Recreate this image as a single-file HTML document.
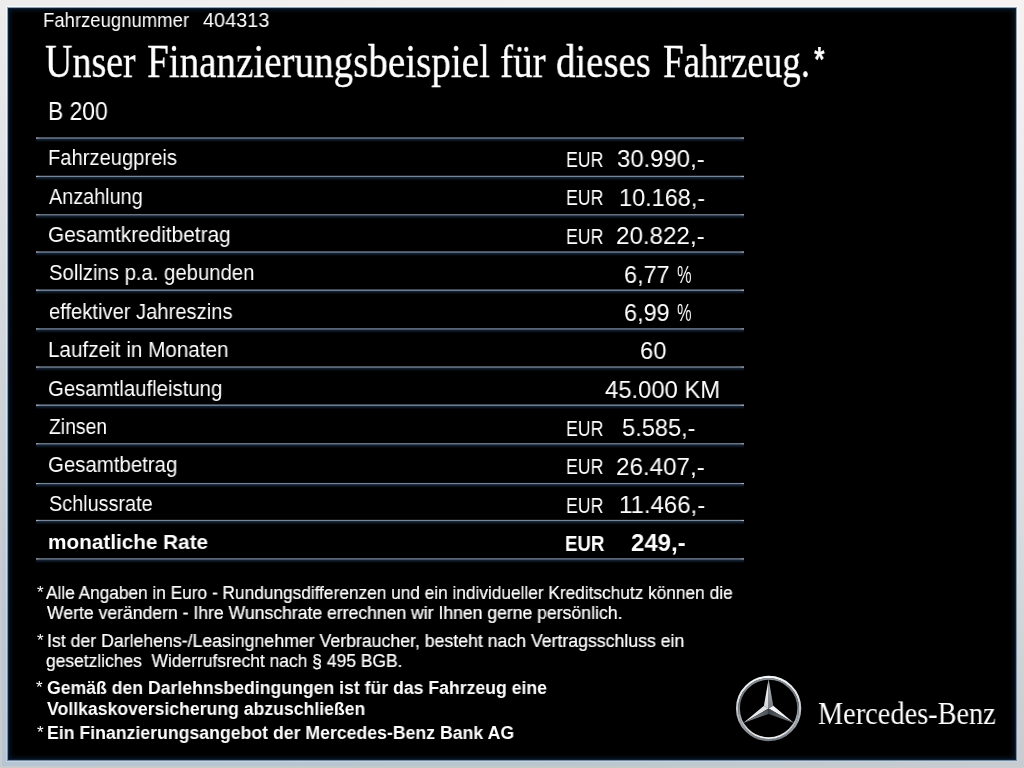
<!DOCTYPE html>
<html lang="de"><head><meta charset="utf-8"><title>Finanzierungsbeispiel</title>
<style>
html,body{margin:0;padding:0;}
body{width:1024px;height:768px;overflow:hidden;position:relative;background:linear-gradient(180deg,#f6f2f4 0%,#ecebed 24%,#e2e4e6 50%,#d2d8dc 76%,#c8ccd0 100%);font-family:"Liberation Sans",sans-serif;}
#bl{position:absolute;left:0;top:0;width:8px;height:768px;background:linear-gradient(180deg,#ededed 0%,#dde1e6 24%,#cdd4d9 50%,#bfc8d3 76%,#b6c5d4 100%);}
#bl2{position:absolute;left:0;top:0;width:2px;height:768px;background:linear-gradient(180deg,#ededed 0%,#e0e1e7 24%,#d0d4d7 50%,#c8ccd0 76%,#c8cccc 100%);}
#bb2{position:absolute;left:0;top:766px;width:1024px;height:2px;background:linear-gradient(90deg,#c8cccc 0%,#c3cac9 50%,#cacdd0 100%);}
#bt{position:absolute;left:0;top:0;width:1024px;height:6px;background:linear-gradient(90deg,#ededed 0%,#f4f2f1 50%,#f6f2f4 100%);}
#bb{position:absolute;left:0;top:762px;width:1024px;height:6px;background:linear-gradient(90deg,#b6c5d4 0%,#b8c6ce 50%,#c8ccd0 100%);}
#rim{position:absolute;left:6px;top:6px;width:1012px;height:756px;background:linear-gradient(180deg,#f2fcff 0%,#ecf2fa 24%,#e0eaf6 50%,#cedeeb 76%,#c2d3e4 100%);}
#panel{position:absolute;left:8px;top:8px;width:1008px;height:752px;background:#000;box-shadow:0 0 0 1px rgba(20,40,65,0.42), inset 0 0 0 1px #0b2034, inset 0 0 5px 2px #08182a;}
.t{will-change:transform;position:absolute;white-space:pre;color:#fff;transform-origin:0 0;line-height:normal;}
.s{font-family:"Liberation Sans",sans-serif;}
.f{font-family:"Liberation Serif",serif;-webkit-text-stroke:0.35px #fff;}
.b{font-weight:700;}
.w{-webkit-text-stroke:0;}
.n{-webkit-text-stroke:0.22px #fff;}
#lines{position:absolute;left:0;top:0;}
#logo{position:absolute;left:728px;top:668px;width:82px;height:82px;}
</style></head>
<body>
<div id="bl"></div><div id="bt"></div><div id="bb"></div><div id="bl2"></div><div id="bb2"></div>
<div id="rim"></div>
<div id="panel"></div>
<svg id="lines" width="1024" height="768" viewBox="0 0 1024 768"><defs><linearGradient id="lg" x1="0" y1="0" x2="1" y2="0"><stop offset="0" stop-color="#b4bac2"/><stop offset="0.006" stop-color="#76859a"/><stop offset="0.994" stop-color="#76859a"/><stop offset="1" stop-color="#b4bac2"/></linearGradient><linearGradient id="ld" x1="0" y1="0" x2="0" y2="1"><stop offset="0" stop-color="#17283c"/><stop offset="0.5" stop-color="#0a131e"/><stop offset="1" stop-color="#000"/></linearGradient></defs><rect x="36" y="137.35" width="708" height="1.5" fill="url(#lg)"/><rect x="36" y="138.85" width="708" height="3.4" fill="url(#ld)"/><rect x="36" y="175.75" width="708" height="1.5" fill="url(#lg)"/><rect x="36" y="177.25" width="708" height="3.4" fill="url(#ld)"/><rect x="36" y="214.15" width="708" height="1.5" fill="url(#lg)"/><rect x="36" y="215.65" width="708" height="3.4" fill="url(#ld)"/><rect x="36" y="251.35" width="708" height="1.5" fill="url(#lg)"/><rect x="36" y="252.85" width="708" height="3.4" fill="url(#ld)"/><rect x="36" y="289.45" width="708" height="1.5" fill="url(#lg)"/><rect x="36" y="290.95" width="708" height="3.4" fill="url(#ld)"/><rect x="36" y="328.25" width="708" height="1.5" fill="url(#lg)"/><rect x="36" y="329.75" width="708" height="3.4" fill="url(#ld)"/><rect x="36" y="366.35" width="708" height="1.5" fill="url(#lg)"/><rect x="36" y="367.85" width="708" height="3.4" fill="url(#ld)"/><rect x="36" y="404.45" width="708" height="1.5" fill="url(#lg)"/><rect x="36" y="405.95" width="708" height="3.4" fill="url(#ld)"/><rect x="36" y="443.15" width="708" height="1.5" fill="url(#lg)"/><rect x="36" y="444.65" width="708" height="3.4" fill="url(#ld)"/><rect x="36" y="482.95" width="708" height="1.5" fill="url(#lg)"/><rect x="36" y="484.45" width="708" height="3.4" fill="url(#ld)"/><rect x="36" y="519.85" width="708" height="1.5" fill="url(#lg)"/><rect x="36" y="521.35" width="708" height="3.4" fill="url(#ld)"/><rect x="36" y="558.25" width="708" height="1.5" fill="url(#lg)"/><rect x="36" y="559.75" width="708" height="3.4" fill="url(#ld)"/></svg>
<span class="t s" style="left:43.49px;top:8.90px;font-size:20.4px;transform:scaleX(0.9077)">Fahrzeugnummer</span>
<span class="t s" style="left:203.00px;top:8.90px;font-size:20.4px;transform:scaleX(0.9749)">404313</span>
<span class="t f" style="left:45.30px;top:34.25px;font-size:47px;transform:scaleX(0.8078)">Unser</span>
<span class="t f" style="left:147.17px;top:34.25px;font-size:47px;transform:scaleX(0.8313)">Finanzierungsbeispiel</span>
<span class="t f" style="left:500.42px;top:34.25px;font-size:47px;transform:scaleX(0.8310)">für</span>
<span class="t f" style="left:556.17px;top:34.25px;font-size:47px;transform:scaleX(0.8262)">dieses</span>
<span class="t f" style="left:662.71px;top:34.25px;font-size:47px;transform:scaleX(0.7885)">Fahrzeug.</span>
<span class="t s b" style="left:814.30px;top:39.10px;font-size:35.2px;transform:scaleX(0.7786)">*</span>
<span class="t s" style="left:48.10px;top:96.75px;font-size:25.4px;transform:scaleX(0.8999)">B 200</span>
<span class="t s" style="left:48.47px;top:145.25px;font-size:21.8px;transform:scaleX(0.9254)">Fahrzeugpreis</span>
<span class="t s" style="left:49.40px;top:183.65px;font-size:21.8px;transform:scaleX(0.9088)">Anzahlung</span>
<span class="t s" style="left:48.45px;top:222.05px;font-size:21.8px;transform:scaleX(0.9541)">Gesamtkreditbetrag</span>
<span class="t s" style="left:49.40px;top:260.45px;font-size:21.8px;transform:scaleX(0.9313)">Sollzins p.a. gebunden</span>
<span class="t s" style="left:49.40px;top:298.85px;font-size:21.8px;transform:scaleX(0.9255)">effektiver Jahreszins</span>
<span class="t s" style="left:48.45px;top:337.25px;font-size:21.8px;transform:scaleX(0.9494)">Laufzeit in Monaten</span>
<span class="t s" style="left:48.47px;top:375.65px;font-size:21.8px;transform:scaleX(0.9341)">Gesamtlaufleistung</span>
<span class="t s" style="left:49.40px;top:414.05px;font-size:21.8px;transform:scaleX(0.8880)">Zinsen</span>
<span class="t s" style="left:48.46px;top:452.45px;font-size:21.8px;transform:scaleX(0.9368)">Gesamtbetrag</span>
<span class="t s" style="left:49.40px;top:490.85px;font-size:21.8px;transform:scaleX(0.9098)">Schlussrate</span>
<span class="t s b" style="left:48.20px;top:530.25px;font-size:20.8px;transform:scaleX(0.9964)">monatliche Rate</span>
<span class="t s" style="left:566.37px;top:148.00px;font-size:21.4px;transform:scaleX(0.8281)">EUR</span>
<span class="t s" style="left:566.37px;top:186.40px;font-size:21.4px;transform:scaleX(0.8281)">EUR</span>
<span class="t s" style="left:566.37px;top:224.80px;font-size:21.4px;transform:scaleX(0.8281)">EUR</span>
<span class="t s" style="left:566.37px;top:416.80px;font-size:21.4px;transform:scaleX(0.8281)">EUR</span>
<span class="t s" style="left:566.37px;top:455.20px;font-size:21.4px;transform:scaleX(0.8281)">EUR</span>
<span class="t s" style="left:566.37px;top:493.60px;font-size:21.4px;transform:scaleX(0.8281)">EUR</span>
<span class="t s b" style="left:564.63px;top:532.00px;font-size:21.4px;transform:scaleX(0.8722)">EUR</span>
<span class="t s" style="left:616.75px;top:145.30px;font-size:24.5px;transform:scaleX(0.9750)">30.990,-</span>
<span class="t s" style="left:618.94px;top:183.70px;font-size:24.5px;transform:scaleX(0.9578)">10.168,-</span>
<span class="t s" style="left:615.76px;top:222.10px;font-size:24.5px;transform:scaleX(0.9860)">20.822,-</span>
<span class="t s" style="left:623.69px;top:260.50px;font-size:24.5px;transform:scaleX(0.9564)">6,77</span>
<span class="t s" style="left:676.70px;top:260.50px;font-size:24.5px;transform:scaleX(0.6667)">%</span>
<span class="t s" style="left:623.69px;top:298.90px;font-size:24.5px;transform:scaleX(0.9564)">6,99</span>
<span class="t s" style="left:676.70px;top:298.90px;font-size:24.5px;transform:scaleX(0.6667)">%</span>
<span class="t s" style="left:640.43px;top:337.30px;font-size:24.5px;transform:scaleX(0.9678)">60</span>
<span class="t s" style="left:605.40px;top:375.70px;font-size:24.5px;transform:scaleX(0.9720)">45.000 KM</span>
<span class="t s" style="left:621.90px;top:414.10px;font-size:24.5px;transform:scaleX(0.9643)">5.585,-</span>
<span class="t s" style="left:615.81px;top:452.50px;font-size:24.5px;transform:scaleX(0.9871)">26.407,-</span>
<span class="t s" style="left:619.22px;top:490.90px;font-size:24.5px;transform:scaleX(0.9790)">11.466,-</span>
<span class="t s b" style="left:630.60px;top:529.30px;font-size:24.5px;transform:scaleX(0.9769)">249,-</span>
<span class="t s" style="left:36.90px;top:582.80px;font-size:17px;transform:scaleX(1.0000)">*</span>
<span class="t s n" style="left:46.25px;top:582.60px;font-size:18px;transform:scaleX(0.9587)">Alle Angaben in Euro - Rundungsdifferenzen und ein individueller Kreditschutz können die</span>
<span class="t s n" style="left:46.90px;top:603.25px;font-size:18px;transform:scaleX(0.9774)">Werte verändern - Ihre Wunschrate errechnen wir Ihnen gerne persönlich.</span>
<span class="t s" style="left:36.60px;top:630.70px;font-size:17px;transform:scaleX(1.0000)">*</span>
<span class="t s n" style="left:47.32px;top:630.50px;font-size:18px;transform:scaleX(0.9831)">Ist der Darlehens-/Leasingnehmer Verbraucher, besteht nach Vertragsschluss ein</span>
<span class="t s n" style="left:46.10px;top:651.40px;font-size:18px;transform:scaleX(0.9679)">gesetzliches  Widerrufsrecht nach § 495 BGB.</span>
<span class="t s" style="left:35.60px;top:678.30px;font-size:17px;transform:scaleX(1.0000)">*</span>
<span class="t s b" style="left:47.00px;top:678.25px;font-size:18px;transform:scaleX(0.9803)">Gemäß den Darlehnsbedingungen ist für das Fahrzeug eine</span>
<span class="t s b" style="left:47.00px;top:699.00px;font-size:18px;transform:scaleX(0.9800)">Vollkaskoversicherung abzuschließen</span>
<span class="t s" style="left:37.00px;top:722.80px;font-size:17px;transform:scaleX(1.0000)">*</span>
<span class="t s b" style="left:47.02px;top:722.60px;font-size:18px;transform:scaleX(0.9824)">Ein Finanzierungsangebot der Mercedes-Benz Bank AG</span>
<span class="t f w" style="left:818.10px;top:696.80px;font-size:30.5px;transform:scaleX(0.9291)">Mercedes-Benz</span>
<svg id="logo" viewBox="0 0 82 82">
<defs>
<linearGradient id="ro" x1="0" y1="0" x2="0" y2="1">
<stop offset="0" stop-color="#f6f7f8"/><stop offset="0.35" stop-color="#dcdfe2"/><stop offset="0.7" stop-color="#a4aab0"/><stop offset="1" stop-color="#747b82"/>
</linearGradient>
<linearGradient id="ri" x1="0" y1="0" x2="0" y2="1">
<stop offset="0" stop-color="#8a9097"/><stop offset="0.4" stop-color="#6a7178"/><stop offset="0.75" stop-color="#b9bec3"/><stop offset="1" stop-color="#f0f1f2"/>
</linearGradient>
<linearGradient id="a1" x1="0" y1="0" x2="0" y2="1"><stop offset="0" stop-color="#ffffff"/><stop offset="1" stop-color="#d2d6da"/></linearGradient>
<linearGradient id="a2" x1="0" y1="0" x2="0" y2="1"><stop offset="0" stop-color="#bcc1c6"/><stop offset="1" stop-color="#747b82"/></linearGradient>
<linearGradient id="b1" x1="0" y1="0" x2="1" y2="0"><stop offset="0" stop-color="#f8f9fa"/><stop offset="1" stop-color="#e4e7ea"/></linearGradient>
<linearGradient id="b2" x1="0" y1="0" x2="1" y2="0"><stop offset="0" stop-color="#3d4349"/><stop offset="1" stop-color="#787f86"/></linearGradient>
<linearGradient id="c1" x1="1" y1="0" x2="0" y2="0"><stop offset="0" stop-color="#dfe2e5"/><stop offset="1" stop-color="#f0f2f4"/></linearGradient>
<linearGradient id="c2" x1="1" y1="0" x2="0" y2="0"><stop offset="0" stop-color="#4a5056"/><stop offset="1" stop-color="#8d9399"/></linearGradient>
</defs>
<circle cx="40.6" cy="40.5" r="31.5" fill="none" stroke="url(#ro)" stroke-width="2.3"/>
<circle cx="40.6" cy="40.5" r="29.6" fill="none" stroke="url(#ri)" stroke-width="1.8"/>
<g transform="translate(40.6,40.5)">
<path d="M0.00,-29.20 L-4.68,-2.70 L0,0 Z" fill="url(#a1)"/>
<path d="M0.00,-29.20 L4.68,-2.70 L0,0 Z" fill="url(#a2)"/>
<path d="M25.29,14.60 L4.68,-2.70 L0,0 Z" fill="url(#b1)"/>
<path d="M25.29,14.60 L0.00,5.40 L0,0 Z" fill="url(#b2)"/>
<path d="M-25.29,14.60 L-4.68,-2.70 L0,0 Z" fill="url(#c1)"/>
<path d="M-25.29,14.60 L0.00,5.40 L0,0 Z" fill="url(#c2)"/>
</g>
</svg>

</body></html>
